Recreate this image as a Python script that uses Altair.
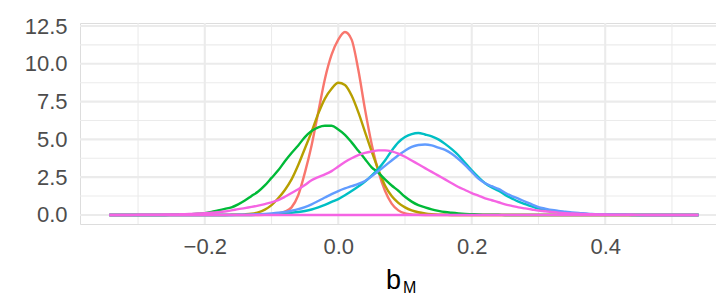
import altair as alt
import pandas as pd

# evaluation grid of the density estimates (step 0.01)
X_GRID = [-0.34, -0.33, -0.32, -0.31, -0.30, -0.29, -0.28, -0.27, -0.26, -0.25,
          -0.24, -0.23, -0.22, -0.21, -0.20, -0.19, -0.18, -0.17, -0.16, -0.15,
          -0.14, -0.13, -0.12, -0.11, -0.10, -0.09, -0.08, -0.07, -0.06, -0.05,
          -0.04, -0.03, -0.02, -0.01, 0.00, 0.01, 0.02, 0.03, 0.04, 0.05,
          0.06, 0.07, 0.08, 0.09, 0.10, 0.11, 0.12, 0.13, 0.14, 0.15,
          0.16, 0.17, 0.18, 0.19, 0.20, 0.21, 0.22, 0.23, 0.24, 0.25,
          0.26, 0.27, 0.28, 0.29, 0.30, 0.31, 0.32, 0.33, 0.34, 0.35,
          0.36, 0.37, 0.38, 0.39, 0.40, 0.41, 0.42, 0.43, 0.44, 0.45,
          0.46, 0.47, 0.48, 0.49, 0.50, 0.51, 0.52, 0.53, 0.54]
X_RANGE = [-0.343, 0.538]

RED = [0, 0, 0, 0, 0, 0, 0, 0, 0, 0,
       0, 0, 0, 0, 0, 0, 0, 0, 0, 0,
       0, 0, 0, 0.01, 0.03, 0.1, 0.22, 0.5, 1.3, 2.8,
       4.6, 6.8, 9.0, 10.6, 11.6, 12.1, 11.6, 9.6, 7.0, 4.7,
       2.9, 1.6, 0.75, 0.3, 0.1, 0.03, 0.01, 0, 0, 0,
       0, 0, 0, 0, 0, 0, 0, 0, 0, 0,
       0, 0, 0, 0, 0, 0, 0, 0, 0, 0,
       0, 0, 0, 0, 0, 0, 0, 0, 0, 0,
       0, 0, 0, 0, 0, 0, 0, 0, 0]
OLIVE = [0, 0, 0, 0, 0, 0, 0, 0, 0, 0,
         0, 0, 0, 0, 0, 0, 0, 0, 0.01, 0.02,
         0.04, 0.08, 0.17, 0.35, 0.65, 1.1, 1.65, 2.35, 3.3, 4.4,
         5.5, 6.7, 7.7, 8.35, 8.75, 8.6, 7.9, 6.8, 5.5, 4.2,
         3.0, 1.95, 1.25, 0.8, 0.5, 0.3, 0.18, 0.1, 0.05, 0.02,
         0.01, 0, 0, 0, 0, 0, 0, 0, 0, 0,
         0, 0, 0, 0, 0, 0, 0, 0, 0, 0,
         0, 0, 0, 0, 0, 0, 0, 0, 0, 0,
         0, 0, 0, 0, 0, 0, 0, 0, 0]
GREEN = [0, 0, 0, 0, 0, 0, 0, 0, 0, 0.01,
         0.02, 0.03, 0.05, 0.08, 0.12, 0.2, 0.3, 0.4, 0.5, 0.7,
         0.95, 1.25, 1.55, 1.95, 2.45, 2.95, 3.55, 4.1, 4.6, 5.15,
         5.55, 5.8, 5.9, 5.9, 5.65, 5.3, 4.8, 4.25, 3.7, 3.15,
         2.8, 2.35, 1.95, 1.6, 1.2, 0.88, 0.65, 0.5, 0.37, 0.27,
         0.19, 0.14, 0.1, 0.07, 0.05, 0.03, 0.02, 0.01, 0.01, 0,
         0, 0, 0, 0, 0, 0, 0, 0, 0, 0,
         0, 0, 0, 0, 0, 0, 0, 0, 0, 0,
         0, 0, 0, 0, 0, 0, 0, 0, 0]
CYAN = [0, 0, 0, 0, 0, 0, 0, 0, 0, 0,
        0, 0, 0, 0, 0, 0, 0, 0, 0, 0,
        0, 0, 0.01, 0.02, 0.04, 0.07, 0.1, 0.14, 0.19, 0.26,
        0.36, 0.5, 0.66, 0.86, 1.05, 1.3, 1.58, 1.88, 2.2, 2.6,
        3.05, 3.6, 4.25, 4.8, 5.15, 5.35, 5.42, 5.32, 5.2, 5.0,
        4.7, 4.35, 3.95, 3.45, 2.95, 2.5, 2.1, 1.82, 1.6, 1.33,
        1.1, 0.88, 0.72, 0.56, 0.42, 0.33, 0.25, 0.19, 0.15, 0.11,
        0.08, 0.06, 0.05, 0.035, 0.025, 0.02, 0.01, 0.01, 0, 0,
        0, 0, 0, 0, 0, 0, 0, 0, 0]
BLUE = [0, 0, 0, 0, 0, 0, 0, 0, 0, 0,
        0, 0, 0, 0, 0, 0, 0, 0, 0, 0.01,
        0.02, 0.03, 0.05, 0.07, 0.1, 0.14, 0.2, 0.28, 0.38, 0.52,
        0.7, 0.92, 1.15, 1.38, 1.58, 1.75, 1.9, 2.05, 2.25, 2.55,
        2.9, 3.25, 3.6, 3.95, 4.25, 4.5, 4.63, 4.66, 4.6, 4.45,
        4.3, 4.05, 3.7, 3.3, 2.85, 2.4, 2.1, 1.9, 1.72, 1.47,
        1.25, 1.08, 0.88, 0.7, 0.52, 0.42, 0.33, 0.27, 0.22, 0.17,
        0.13, 0.1, 0.07, 0.05, 0.04, 0.03, 0.02, 0.01, 0.01, 0,
        0, 0, 0, 0, 0, 0, 0, 0, 0]
PINK = [0, 0, 0, 0, 0.01, 0.01, 0.015, 0.02, 0.025, 0.03,
        0.04, 0.05, 0.07, 0.09, 0.11, 0.14, 0.18, 0.23, 0.3, 0.38,
        0.45, 0.53, 0.62, 0.72, 0.83, 0.98, 1.2, 1.45, 1.7, 1.98,
        2.3, 2.5, 2.68, 2.9, 3.2, 3.5, 3.75, 3.95, 4.1, 4.2,
        4.27, 4.27, 4.2, 4.05, 3.85, 3.6, 3.35, 3.1, 2.85, 2.6,
        2.35, 2.1, 1.85, 1.65, 1.45, 1.28, 1.1, 0.97, 0.84, 0.7,
        0.6, 0.5, 0.43, 0.36, 0.29, 0.24, 0.19, 0.15, 0.12, 0.1,
        0.08, 0.06, 0.05, 0.04, 0.03, 0.02, 0.015, 0.01, 0.01, 0.005,
        0, 0, 0, 0, 0, 0, 0, 0, 0]

SERIES = [RED, OLIVE, GREEN, CYAN, BLUE, PINK]
COLORS = ["#F8766D", "#B79F00", "#00BA38", "#00BFC4", "#619CFF", "#F564E3"]

X_MAJOR = [-0.2, 0.0, 0.2, 0.4]
X_MINOR = [-0.3, -0.1, 0.1, 0.3, 0.5]
Y_MAJOR = [0.0, 2.5, 5.0, 7.5, 10.0, 12.5]
Y_MINOR = [1.25, 3.75, 6.25, 8.75, 11.25]
X_DOMAIN = [-0.387, 0.566]
Y_DOMAIN = [-0.6, 12.7]
TITLE_MAIN = ["b"]
TITLE_SUB = ["M"]

W, H = 636, 201
FONT = "Liberation Sans"
GRID = "#EBEBEB"

xs = alt.Scale(domain=X_DOMAIN, nice=False, zero=False)
ys = alt.Scale(domain=Y_DOMAIN, nice=False, zero=False)

x_axis = alt.Axis(values=X_MAJOR, grid=False, domain=False, ticks=False, tickSize=0,
                  labelFont=FONT, labelFontSize=22, labelColor="#4D4D4D",
                  labelBaseline="alphabetic", labelPadding=29,
                  labelExpr="replace(format(datum.value, '.1f'), '-', '\u2212')",
                  title=None)
y_axis = alt.Axis(values=Y_MAJOR, grid=False, domain=False, ticks=False, tickSize=0,
                  labelFont=FONT, labelFontSize=22, labelColor="#4D4D4D",
                  labelPadding=13, format=".1f", title=None)

def vgrid(vals, w):
    return alt.Chart(pd.DataFrame({"v": vals})).mark_rule(color=GRID, strokeWidth=w).encode(
        x=alt.X("v:Q", scale=xs, axis=x_axis))

def hgrid(vals, w):
    return alt.Chart(pd.DataFrame({"v": vals})).mark_rule(color=GRID, strokeWidth=w).encode(
        y=alt.Y("v:Q", scale=ys, axis=y_axis))

layers = [hgrid(Y_MINOR, 1.1), vgrid(X_MINOR, 1.1), hgrid(Y_MAJOR, 2.1), vgrid(X_MAJOR, 2.1)]

for vals, col in zip(SERIES, COLORS):
    xx = [X_RANGE[0]] + X_GRID + [X_RANGE[1]]
    yy = [0.0] + list(vals) + [0.0]
    df = pd.DataFrame({"x": xx, "d": yy})
    layers.append(
        alt.Chart(df).mark_line(color=col, strokeWidth=2.4, interpolate="monotone").encode(
            x=alt.X("x:Q", scale=xs, axis=x_axis),
            y=alt.Y("d:Q", scale=ys, axis=y_axis)))

base_df = pd.DataFrame({"x": X_RANGE, "d": [0.0, 0.0]})
layers.append(
    alt.Chart(base_df).mark_line(color=COLORS[-1], strokeWidth=2.4).encode(
        x=alt.X("x:Q", scale=xs, axis=x_axis),
        y=alt.Y("d:Q", scale=ys, axis=y_axis)))

layers.append(
    alt.Chart(pd.DataFrame({"t": TITLE_MAIN})).mark_text(
        font=FONT, fontSize=27, color="#000000", align="left", baseline="alphabetic").encode(
        text="t:N", x=alt.value(306), y=alt.value(266)))
layers.append(
    alt.Chart(pd.DataFrame({"t": TITLE_SUB})).mark_text(
        font=FONT, fontSize=16, color="#000000", align="left", baseline="alphabetic").encode(
        text="t:N", x=alt.value(323), y=alt.value(269.7)))

chart = alt.layer(*layers).properties(
    width=W, height=H,
    autosize=alt.AutoSizeParams(type="none"),
    padding={"left": 72, "top": 15, "right": 0, "bottom": 76},
).configure_view(stroke=None).configure(background="#FFFFFF")

chart.save("out.html", embed_options={"renderer": "svg", "actions": False})
